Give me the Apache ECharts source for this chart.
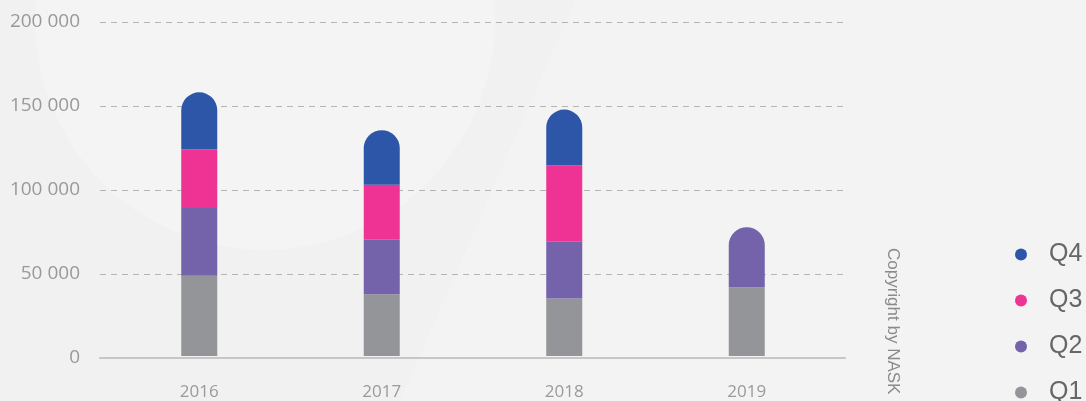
<!DOCTYPE html>
<html>
<head>
<meta charset="utf-8">
<script src="https://cdn.jsdelivr.net/npm/echarts@6/dist/echarts.min.js"></script>
<style>
  html, body { margin: 0; padding: 0; background: #f1f1f1; }
  #main { width: 1086px; height: 401px; }
</style>
</head>
<body>
<div id="main"></div>
<script>
// data
var years = ['2016', '2017', '2018', '2019'];
var q1 = [48100, 37000, 34400, 41200];
var q2 = [40500, 32600, 34000, 35900];
var q3 = [35000, 32900, 45800, null];
var q4 = [34300, 32700, 33400, null];
var legendOrder = ['Q4', 'Q3', 'Q2', 'Q1'];
var yMax = 200000;
var yStep = 50000;

var quarters = [
  { name: 'Q1', values: q1, color: '#949599' },
  { name: 'Q2', values: q2, color: '#7462ab' },
  { name: 'Q3', values: q3, color: '#ef3394' },
  { name: 'Q4', values: q4, color: '#2e56a8' }
];

// the top segment of each column gets the rounded cap
function topIndex(col) {
  var top = -1;
  quarters.forEach(function (q, i) {
    if (q.values[col] != null) top = i;
  });
  return top;
}

var series = quarters.map(function (q, i) {
  return {
    name: q.name,
    type: 'bar',
    stack: 'total',
    xAxisIndex: 1,
    yAxisIndex: 1,
    barWidth: 36,
    itemStyle: { color: q.color },
    data: q.values.map(function (v, col) {
      if (v == null) return null;
      if (topIndex(col) === i) {
        return { value: v, itemStyle: { borderRadius: [18, 18, 0, 0] } };
      }
      return v;
    })
  };
});

function spaced(v) {
  return String(v).replace(/\B(?=(\d{3})+(?!\d))/g, ' ');
}

var chart = echarts.init(document.getElementById('main'));
chart.setOption({
  backgroundColor: '#f1f1f1',
  animation: false,
  graphic: [
    {
      type: 'circle', z: -10, silent: true,
      shape: { cx: 265, cy: 20, r: 230 },
      style: { fill: 'rgba(255,255,255,0.22)' }
    },
    {
      type: 'polygon', z: -10, silent: true,
      shape: { points: [[575, 0], [1086, 0], [1086, 401], [400, 401]] },
      style: { fill: 'rgba(255,255,255,0.14)' }
    },
    {
      type: 'text', z: 10,
      x: 893, y: 248,
      rotation: -Math.PI / 2,
      style: {
        text: 'Copyright by NASK',
        fill: '#8a8a8a',
        font: '17px "Liberation Sans", Arial, sans-serif',
        align: 'left',
        verticalAlign: 'middle'
      }
    }
  ],
  legend: {
    data: legendOrder,
    orient: 'vertical',
    left: 1015,
    top: 242,
    height: 220,
    padding: 0,
    icon: 'circle',
    itemWidth: 12,
    itemHeight: 12,
    itemGap: 21,
    textStyle: {
      fontFamily: '"Liberation Sans", Arial, sans-serif',
      fontSize: 25,
      lineHeight: 24,
      color: '#666666',
      padding: [0, 0, 0, 17]
    }
  },
  grid: [
    { left: 100, right: 241, top: 22, bottom: 43 },
    { left: 108, right: 248, top: 22, bottom: 43 }
  ],
  xAxis: [
    {
      type: 'category', gridIndex: 0, data: years,
      axisLine: { lineStyle: { color: '#c6c6c6', width: 2 } },
      axisTick: { show: false },
      axisLabel: { show: false }
    },
    {
      type: 'category', gridIndex: 1, data: years,
      axisLine: { show: false },
      axisTick: { show: false },
      axisLabel: {
        margin: 28,
        color: '#9a9a9a',
        fontFamily: '"Open Sans", sans-serif',
        fontSize: 17
      }
    }
  ],
  yAxis: [
    {
      type: 'value', gridIndex: 0, min: 0, max: yMax, interval: yStep,
      axisLine: { show: false },
      axisTick: { show: false },
      axisLabel: {
        margin: 20,
        color: '#999999',
        fontFamily: '"Open Sans", sans-serif',
        fontSize: 19,
        formatter: spaced
      },
      splitLine: { lineStyle: { color: '#b4b4b4', type: [6, 5], width: 1 } }
    },
    {
      type: 'value', gridIndex: 1, min: 0, max: yMax, interval: yStep,
      show: false,
      splitLine: { show: false }
    }
  ],
  series: series
});
</script>
</body>
</html>
